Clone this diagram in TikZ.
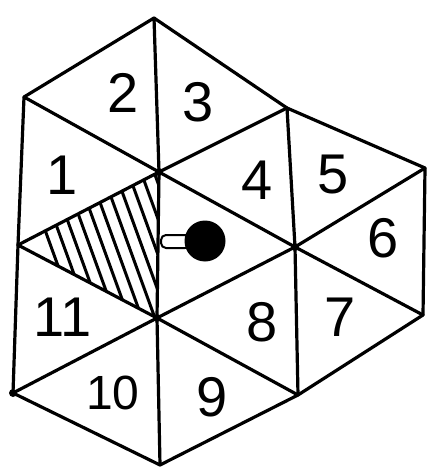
\documentclass[tikz,border=0pt]{standalone}
\usepackage{fontspec}
\setmainfont{Liberation Sans}
\begin{document}
\begin{tikzpicture}[x=1pt,y=-1pt,
  edge/.style={line width=3.2pt, line cap=round, line join=round},
  hatchline/.style={line width=3pt, line cap=round},
  num/.style={font=\fontsize{56}{60}\selectfont, inner sep=0pt},
  vdot/.style={circle, fill=black, inner sep=0pt, minimum size=8pt}]
\useasboundingbox (0,0) rectangle (430,468);
% vertices
\coordinate (T)  at (154,18);
\coordinate (TL) at (24,97);
\coordinate (C1) at (159,172);
\coordinate (P)  at (287,108);
\coordinate (RT) at (425,168);
\coordinate (CR) at (295,247);
\coordinate (LM) at (18,245);
\coordinate (C2) at (157,318);
\coordinate (RL) at (423,315);
\coordinate (BL) at (13,393);
\coordinate (BR) at (298,395);
\coordinate (B)  at (160,465);
% hatching
\begin{scope}
  \clip (C1) -- (LM) -- (C2) -- cycle;
  \foreach \x in {16,29,...,146} \draw[hatchline] (\x,150) -- ++(66,182);
\end{scope}
% edges
\draw[edge] (T) -- (TL) (T) -- (C1) (T) -- (P);
\draw[edge] (TL) -- (C1) (TL) -- (LM);
\draw[edge] (C1) -- (P) (C1) -- (CR) (C1) -- (LM) (C1) -- (C2);
\draw[edge] (P) -- (RT) (P) -- (CR);
\draw[edge] (RT) -- (CR) (RT) -- (RL);
\draw[edge] (CR) -- (RL) (CR) -- (C2) (CR) -- (BR);
\draw[edge] (LM) -- (C2) (LM) -- (BL);
\draw[edge] (C2) -- (BL) (C2) -- (BR) (C2) -- (B);
\draw[edge] (BL) -- (B) (B) -- (BR) (BR) -- (RL);
% vertex dots
\node[vdot] (d1) at (C1) {};
\node[vdot] (d2) at (CR) {};
\node[vdot] (d3) at (C2) {};
\node[vdot] (d4) at (BL) {};
% knob
\draw[line width=2pt, fill=white, rounded corners=5pt] (161,235) rectangle (190,248);
\node[circle, fill=black, minimum size=41pt, inner sep=0pt] (knob) at (205,241) {};
% labels
\node[num] (n1)  at (62,175)  {1};
\node[num] (n2)  at (123,93)  {2};
\node[num] (n3)  at (198,102) {3};
\node[num] (n4)  at (257,180) {4};
\node[num] (n5)  at (333,175) {5};
\node[num] (n6)  at (383,238) {6};
\node[num] (n7)  at (340,317) {7};
\node[num] (n8)  at (262,322) {8};
\node[num] (n9)  at (212,397) {9};
\node[num] (n10) at (113,393) {\fontsize{48}{52}\selectfont 10};
\node[num] (n11) at (63,317)  {11};
\end{tikzpicture}
\end{document}
